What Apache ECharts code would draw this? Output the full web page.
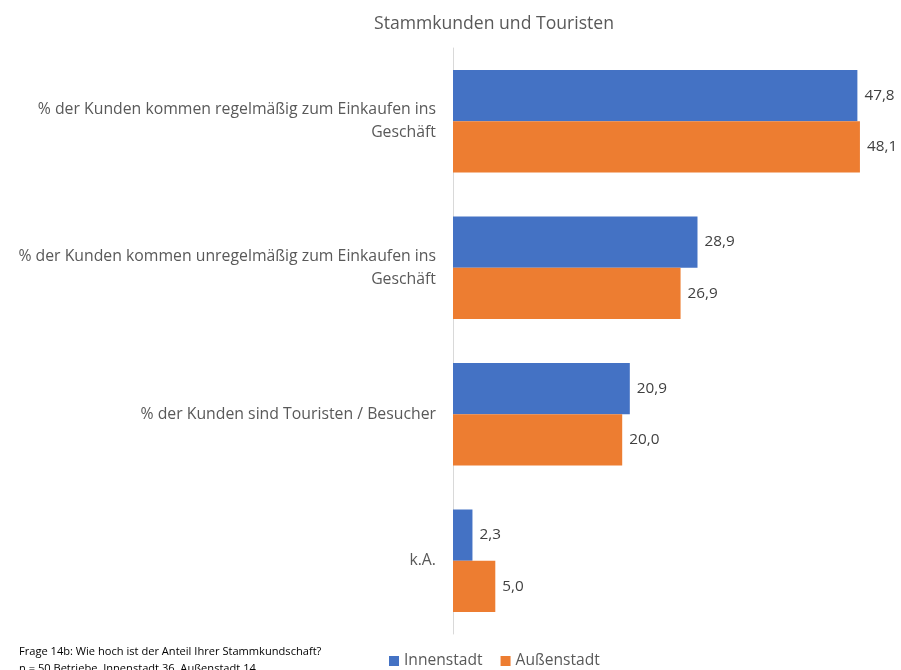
<!DOCTYPE html>
<html><head><meta charset="utf-8">
<script src="https://cdn.jsdelivr.net/npm/echarts@6/dist/echarts.min.js"></script>
<style>html,body{margin:0;padding:0;background:#fff}#c{width:901px;height:670px}</style>
</head><body><div id="c"></div>
<script>
const categories = [
  "% der Kunden kommen regelmäßig zum Einkaufen ins\nGeschäft",
  "% der Kunden kommen unregelmäßig zum Einkaufen ins\nGeschäft",
  "% der Kunden sind Touristen / Besucher",
  "k.A."
];
const innenstadt = [47.8, 28.9, 20.9, 2.3];
const aussenstadt = [48.1, 26.9, 20.0, 5.0];
const seriesNames = ["Innenstadt", "Außenstadt"];
const titleText = "Stammkunden und Touristen";
const footLines = ["Frage 14b: Wie hoch ist der Anteil Ihrer Stammkundschaft?", "n = 50 Betriebe, Innenstadt 36, Außenstadt 14"];

const FONT = "Open Sans";
const fmt = p => p.value.toFixed(1).replace('.', ',');
const chart = echarts.init(document.getElementById('c'), null, {renderer: 'canvas'});
chart.setOption({
  animation: false,
  textStyle: {fontFamily: FONT},
  title: {text: titleText, left: 489, top: 10, textAlign: 'center',
    textStyle: {fontFamily: FONT, fontSize: 17.6, fontWeight: 'normal', color: '#595959'}},
  legend: {data: seriesNames, left: 384, top: 648, itemWidth: 10, itemHeight: 10, itemGap: 18,
    icon: 'rect', textStyle: {fontFamily: FONT, fontSize: 15.6, color: '#595959'}},
  grid: {left: 453, top: 48, width: 423, height: 586, containLabel: false},
  xAxis: {type: 'value', min: 0, max: 50, show: false, splitLine: {show: false}},
  yAxis: {type: 'category', data: categories, inverse: true,
    axisLine: {show: true, lineStyle: {color: '#d9d9d9', width: 1}},
    axisTick: {show: false},
    axisLabel: {margin: 17, fontFamily: FONT, fontSize: 15.8, color: '#595959', lineHeight: 23, align: 'right'}},
  series: [
    {name: seriesNames[0], type: 'bar', data: innenstadt, barCategoryGap: '30%', barGap: '0%',
      itemStyle: {color: '#4472C4'},
      label: {show: true, position: 'right', distance: 7, formatter: fmt, fontFamily: FONT, fontSize: 15.3, color: '#404040'}},
    {name: seriesNames[1], type: 'bar', data: aussenstadt, barCategoryGap: '30%', barGap: '0%',
      itemStyle: {color: '#ED7D31'},
      label: {show: true, position: 'right', distance: 7, formatter: fmt, fontFamily: FONT, fontSize: 15.3, color: '#404040'}}
  ],
  graphic: [
    {type: 'text', left: 19, top: 646, style: {text: footLines[0], fontFamily: FONT, fontSize: 11.1, fill: '#000'}},
    {type: 'text', left: 19, top: 663, style: {text: footLines[1], fontFamily: FONT, fontSize: 11.1, fill: '#000'}}
  ]
});
</script></body></html>
